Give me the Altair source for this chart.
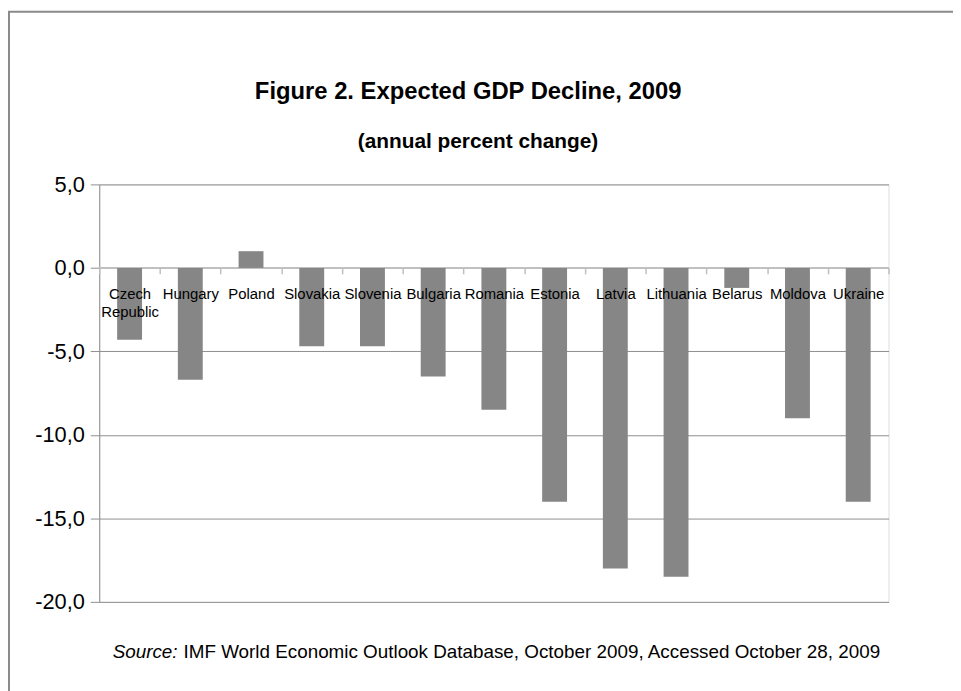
import altair as alt
import pandas as pd

countries = ["Czech Republic", "Hungary", "Poland", "Slovakia", "Slovenia", "Bulgaria",
             "Romania", "Estonia", "Latvia", "Lithuania", "Belarus", "Moldova", "Ukraine"]
values = [-4.3, -6.7, 1.0, -4.7, -4.7, -6.5, -8.5, -14.0, -18.0, -18.5, -1.2, -9.0, -14.0]
y_ticks = [-20, -15, -10, -5, 0, 5]
title_text = ["Figure 2. Expected GDP Decline, 2009"]
subtitle_text = ["(annual percent change)"]
source_label = ["Source:"]
source_text = ["IMF World Economic Outlook Database, October 2009, Accessed October 28, 2009"]

df = pd.DataFrame({"country": countries, "value": values})

W, H = 796, 421
YMIN, YMAX = -20, 5
zero_px = H * (YMAX - 0) / (YMAX - YMIN)
FONT = "Liberation Sans, Arial, sans-serif"
GRID = "#8e8e8e"

bars = alt.Chart(df).mark_bar(color="#868686", width=alt.RelativeBandSize(0.41)).encode(
    x=alt.X("country:N", sort=None,
            scale=alt.Scale(paddingInner=0, paddingOuter=0),
            axis=alt.Axis(title=None, orient="bottom", offset=-(H - zero_px),
                          domain=False, tickBand="extent", tickSize=6,
                          tickColor="#bfbfbf", tickWidth=1.5, zindex=1,
                          labelAngle=0, labelFont=FONT, labelFontSize=15,
                          labelColor="#000000", labelPadding=13, labelOverlap=False,
                          labelLimit=200, labelLineHeight=18,
                          labelExpr="datum.label == 'Czech Republic' ? ['Czech', 'Republic'] : datum.label")),
    y=alt.Y("value:Q",
            scale=alt.Scale(domain=[YMIN, YMAX], nice=False, zero=False),
            axis=alt.Axis(title=None, values=y_ticks, grid=True, gridColor=GRID,
                          gridWidth=1, domainColor=GRID, domainWidth=1,
                          tickColor=GRID, tickSize=9, labelFont=FONT, labelFontSize=22,
                          labelColor="#000000", labelPadding=6,
                          labelExpr="(datum.value < 0 ? '-' : '') + replace(format(abs(datum.value), '.1f'), '.', ',')"))
)

zero_rule = alt.Chart(pd.DataFrame({"z": [0]})).mark_rule(color="#c0c0c0", strokeWidth=2).encode(
    y=alt.datum(0)
)

title = alt.Chart(pd.DataFrame({"t": title_text})).mark_text(
    font=FONT, fontSize=24, fontWeight="bold", align="center", baseline="alphabetic", color="#000000"
).encode(text="t:N", x=alt.value(372), y=alt.value(-86))

subtitle = alt.Chart(pd.DataFrame({"t": subtitle_text})).mark_text(
    font=FONT, fontSize=21, fontWeight="bold", align="center", baseline="alphabetic", color="#000000"
).encode(text="t:N", x=alt.value(382), y=alt.value(-37))

src_label = alt.Chart(pd.DataFrame({"t": source_label})).mark_text(
    font=FONT, fontSize=19, fontStyle="italic", align="right", baseline="alphabetic", color="#000000"
).encode(text="t:N", x=alt.value(79), y=alt.value(478))

src_text = alt.Chart(pd.DataFrame({"t": source_text})).mark_text(
    font=FONT, fontSize=19, align="left", baseline="alphabetic", color="#000000"
).encode(text="t:N", x=alt.value(85), y=alt.value(478))

border_left = alt.Chart(pd.DataFrame({"b": [0]})).mark_rule(color="#8a8a8a", strokeWidth=2).encode(
    x=alt.value(-91), y=alt.value(-174), y2=alt.value(520)
)
border_top = alt.Chart(pd.DataFrame({"b": [0]})).mark_rule(color="#8a8a8a", strokeWidth=2).encode(
    x=alt.value(-92), x2=alt.value(870), y=alt.value(-174)
)

chart = alt.layer(zero_rule, bars, title, subtitle, src_label, src_text, border_left, border_top).properties(
    width=W, height=H,
    padding={"left": 92, "top": 175, "right": 65, "bottom": 87},
    autosize=alt.AutoSizeParams(type="none"),
).configure_view(stroke=None).configure(background="#ffffff")

chart.save("out.html", embed_options={"renderer": "svg", "actions": False})
